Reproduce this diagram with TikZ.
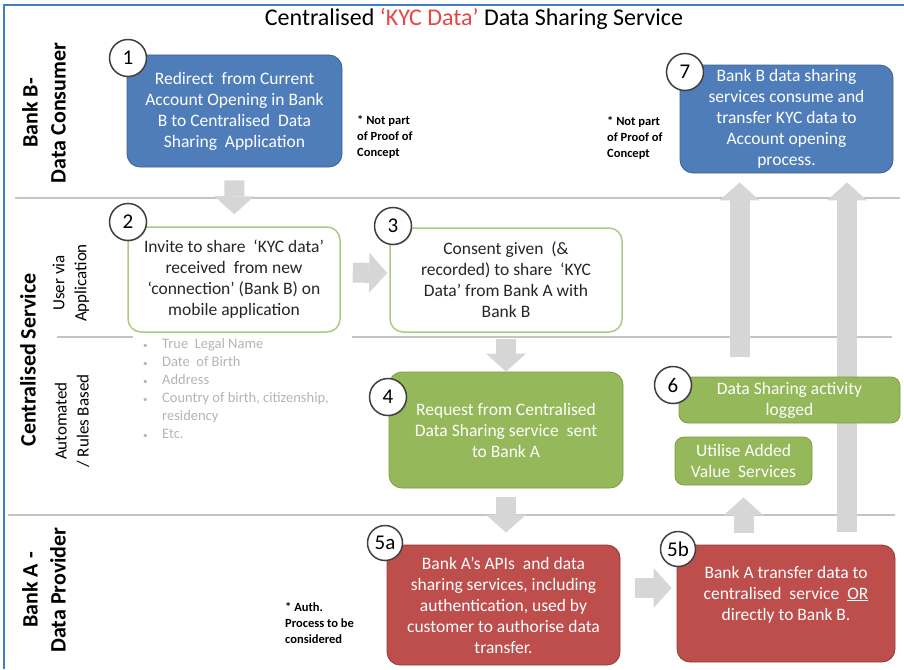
\documentclass[tikz,border=0pt]{standalone}
\usepackage{fontspec}
\setmainfont{Carlito}
\usetikzlibrary{arrows.meta, backgrounds, positioning, shadows}

\definecolor{bankblue}{HTML}{4F7DBA}
\definecolor{blueedge}{HTML}{3D6392}
\definecolor{bankgreen}{HTML}{95B85A}
\definecolor{greenedge}{HTML}{7C9B47}
\definecolor{bankred}{HTML}{BD4E4B}
\definecolor{rededge}{HTML}{8E3A37}
\definecolor{applime}{HTML}{ABCB82}
\definecolor{arrowgray}{HTML}{D6D6D6}
\definecolor{lanegray}{HTML}{C4C4C4}
\definecolor{framecolor}{HTML}{3F80C0}
\definecolor{titlered}{HTML}{E84545}
\definecolor{bulletgray}{HTML}{B4B4B4}

\begin{document}
\begin{tikzpicture}
        [x=1pt, y=-1pt,
        stepbox/.style={rectangle, rounded corners=13pt, thick,
        align=center, inner sep=2pt,
        font=\fontsize{17.5}{21}\selectfont},
        bluebox/.style={stepbox, draw=blueedge, fill=bankblue, text=white},
        greenbox/.style={stepbox, draw=greenedge, fill=bankgreen, text=white},
        appbox/.style={stepbox, draw=applime, line width=1.5pt, fill=white, text=black!85},
        redbox/.style={stepbox, draw=rededge, fill=bankred, text=white},
        num/.style={circle, draw=black!75, line width=1.5pt, fill=white,
        minimum size=37pt, inner sep=0pt,
        drop shadow={shadow xshift=1pt, shadow yshift=-1pt, opacity=.25},
        font=\fontsize{21}{21}\selectfont},
        lane/.style={rotate=90, align=center, font=\bfseries\fontsize{22}{28}\selectfont},
        sublane/.style={rotate=90, align=center, font=\fontsize{17}{22}\selectfont},
        note/.style={anchor=west, align=left, inner sep=0pt,
        font=\bfseries\fontsize{12.5}{16}\selectfont},
        line/.style={draw=lanegray, line width=1.5pt},
        bigarrow/.style={draw=arrowgray, line width=20pt,
        -{Triangle[width=40pt,length=18pt,line width=0pt]}}]
        \useasboundingbox (0,0) rectangle (904,669);

        % title and frame
        \node (title) at (474,19) {\fontsize{24}{26}\selectfont Centralised
            \textcolor{titlered}{`KYC Data'} Data Sharing Service};
        \draw [framecolor, line width=1.5pt] (4,669) -- (4,5) -- (904,5);

        % swim lanes
        \node [lane] (consumer) at (44,113) {Bank B-\\Data Consumer};
        \node [lane] (central) at (28,360) {Centralised Service};
        \node [sublane] (userapp) at (71,283) {User via\\Application};
        \node [sublane] (rules) at (72,421) {Automated\\/ Rules Based};
        \node [lane] (provider) at (44,590) {Bank A -\\Data Provider};

        % row 1
        \node [bluebox, minimum width=215pt, minimum height=112pt] (redirect) at (234.5,111)
            {Redirect~~from Current\\Account Opening in Bank\\B to Centralised~~Data\\Sharing~~Application};
        \node [bluebox, minimum width=213pt, minimum height=108pt] (consume) at (786.5,119)
            {Bank B data sharing\\services consume and\\transfer KYC data to\\Account opening\\process.};
        % row 2
        \node [appbox, minimum width=212pt, minimum height=105pt] (invite) at (234,279.5)
            {Invite to share~~`KYC data'\\received~~from new\\`connection' (Bank B) on\\mobile application};
        \node [appbox, minimum width=232pt, minimum height=104pt] (consent) at (506,280)
            {Consent given~~(\&\\recorded) to share~~`KYC\\Data' from Bank A with\\Bank B};
        % row 3
        \node [greenbox, minimum width=234pt, minimum height=116pt] (request) at (506,430)
            {Request from Centralised\\Data Sharing service~~sent\\to Bank A};
        \node [greenbox, rounded corners=9pt, minimum width=221pt, minimum height=46pt] (logged) at (789.5,400)
            {Data Sharing activity\\logged};
        \node [greenbox, rounded corners=9pt, minimum width=137pt, minimum height=48pt] (utilise) at (743.5,461)
            {Utilise Added\\Value~~Services};
        % row 4
        \node [redbox, minimum width=233pt, minimum height=120pt] (apis) at (503.5,605)
            {Bank A's APIs~~and data\\sharing services, including\\authentication, used by\\customer to authorise data\\transfer.};
        \node [redbox, minimum width=218pt, minimum height=117pt] (transfer) at (786,603.5)
            {Bank A transfer data to\\centralised~~service~~\underline{OR}\\directly to Bank B.\\~};

        % step numbers
        \node [num] (n1) at (128,58) {1};
        \node [num] (n2) at (128,222) {2};
        \node [num] (n3) at (393,226) {3};
        \node [num] (n4) at (388,397) {4};
        \node [num, minimum size=35pt] (n5a) at (385,543) {5a};
        \node [num, minimum size=35pt] (n5b) at (678,549) {5b};
        \node [num] (n6) at (673,385) {6};
        \node [num] (n7) at (685,72) {7};

        % remarks
        \node [note] (notpoc) at (357,137) {* Not part\\of Proof of\\Concept};
        \node [note] (notpocb) at (607,138) {* Not part\\of Proof of\\Concept};
        \node [note] (authnote) at (285,623) {* Auth.\\Process to be\\considered};
        \node [anchor=north west, align=left, inner sep=0pt, text=bulletgray,
            font=\fontsize{14.5}{18}\selectfont] (kycfields) at (143,338)
            {\makebox[19pt][l]{\small\textbullet}True~~Legal Name\\
             \makebox[19pt][l]{\small\textbullet}Date~~of Birth\\
             \makebox[19pt][l]{\small\textbullet}Address\\
             \makebox[19pt][l]{\small\textbullet}Country of birth, citizenship,\\
             \hspace*{19pt}residency\\
             \makebox[19pt][l]{\small\textbullet}Etc.};

        \begin{scope}[on background layer]
            \path [line] (15,198) -- (900,198);
            \path [line] (57,337) -- (133,337);
            \path [line] (352,337) -- (892,337);
            \path [line] (8,515) -- (895,515);
            \begin{scope}[every path/.style=bigarrow]
                \path [shorten <=13pt, shorten >=12pt] (redirect) -- (invite);
                \path [shorten <=12pt, shorten >=2pt] ([yshift=7pt]invite.east) -- ([yshift=7pt]consent.west);
                \path [shorten <=6pt] (consent) -- (request);
                \path [shorten <=9pt, shorten >=12pt] (request.south) -- (request.south |- apis.north);
                \path [shorten <=15pt, shorten >=5pt] ([yshift=17pt]apis.east) -- ([yshift=17pt]apis.east -| transfer.west);
                \path [shorten <=12pt, shorten >=12pt] (transfer.north -| utilise.south) -- (utilise.south);
                \path [shorten <=20pt, shorten >=9pt] ([xshift=60pt]logged.north -| consume.west) -- ([xshift=60pt]consume.south west);
                \path [shorten <=13pt, shorten >=9pt] ([xshift=61pt]transfer.north) -- ([xshift=61pt]transfer.north |- consume.south);
            \end{scope}
        \end{scope}
\end{tikzpicture}
\end{document}
